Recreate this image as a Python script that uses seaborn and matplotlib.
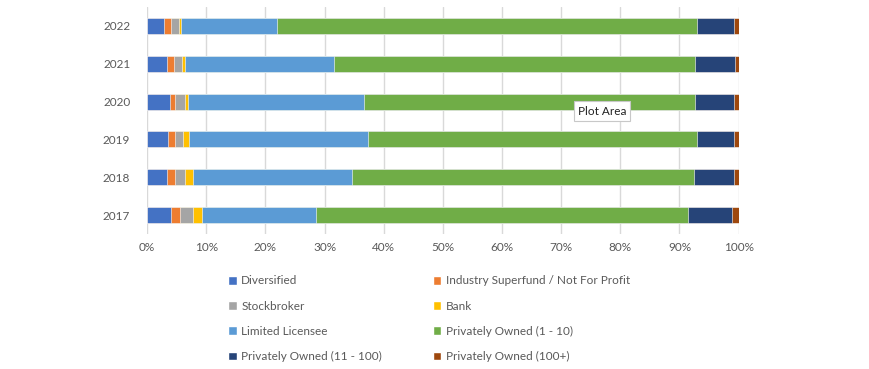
import numpy as np
import pandas as pd
import seaborn as sns
import matplotlib.pyplot as plt
from matplotlib.patches import Patch

# 各年份各类机构占比 (%)
years = ['2022', '2021', '2020', '2019', '2018', '2017']
categories = ['Diversified', 'Industry Superfund / Not For Profit', 'Stockbroker', 'Bank',
              'Limited Licensee', 'Privately Owned (1 - 10)', 'Privately Owned (11 - 100)',
              'Privately Owned (100+)']
diversified = [2.9, 3.3, 3.8, 3.5, 3.3, 4.1]
superfund = [1.1, 1.2, 1.0, 1.2, 1.4, 1.5]
stockbroker = [1.4, 1.4, 1.6, 1.4, 1.8, 2.2]
bank = [0.3, 0.5, 0.5, 1.0, 1.2, 1.5]
limited = [16.3, 25.2, 29.8, 30.3, 26.9, 19.2]
po_small = [71.0, 61.0, 55.9, 55.5, 57.8, 63.0]
po_mid = [6.2, 6.8, 6.6, 6.3, 6.8, 7.4]
po_large = [0.8, 0.6, 0.8, 0.8, 0.8, 1.1]

colors = ['#4472C4', '#ED7D31', '#A5A5A5', '#FFC000', '#5B9BD5', '#70AD47', '#264478', '#9E480E']

sns.set_style('white')
plt.rcParams['font.family'] = ['Lato', 'DejaVu Sans']

df = pd.DataFrame(
    np.array([diversified, superfund, stockbroker, bank, limited, po_small, po_mid, po_large]).T,
    columns=categories, index=years)
df = df.div(df.sum(axis=1), axis=0)  # 归一到100%
cum = df.cumsum(axis=1)
cum['Year'] = years

fig = plt.figure(figsize=(8.7, 3.69), dpi=100)
ax = fig.add_axes([0.169, 0.366, 0.68, 0.615])

# 从最长的累计值开始画, 后画的盖住前面的
for cat, col in reversed(list(zip(categories, colors))):
    sns.barplot(data=cum, x=cat, y='Year', order=years, color=col, saturation=1, width=0.42,
                orient='h', edgecolor='white', linewidth=0.4, ax=ax, zorder=3)

ax.set_xlim(0, 1)
ax.set_xticks(np.arange(0, 1.01, 0.1))
ax.set_xticklabels([f'{int(round(v * 100))}%' for v in np.arange(0, 1.01, 0.1)])
ax.grid(axis='x', color='#D9D9D9', linewidth=1, zorder=0)
ax.set_axisbelow(True)
ax.set_xlabel('')
ax.set_ylabel('')
sns.despine(ax=ax, left=True, bottom=True)
ax.tick_params(axis='both', length=0, labelsize=8.5, colors='#595959')
ax.tick_params(axis='x', pad=6)
ax.tick_params(axis='y', pad=12)

# 图例按行排列: 重新排序以适应 matplotlib 按列填充
handles = [Patch(facecolor=c, label=l) for c, l in zip(colors, categories)]
handles = [handles[i] for i in [0, 2, 4, 6, 1, 3, 5, 7]]
fig.legend(handles=handles, ncol=2, loc='lower left', bbox_to_anchor=(0.25, -0.01),
           frameon=False, fontsize=8.5, labelcolor='#595959',
           handlelength=0.75, handleheight=0.75, handletextpad=0.35,
           columnspacing=4.3, labelspacing=1.2)

fig.text(0.692, 0.699, 'Plot Area', ha='center', va='center', fontsize=8.5, color='#222222',
         bbox=dict(boxstyle='square,pad=0.35', facecolor='white', edgecolor='#C8C8C8', linewidth=0.8),
         zorder=10)

fig.savefig('out.png', dpi=100)
